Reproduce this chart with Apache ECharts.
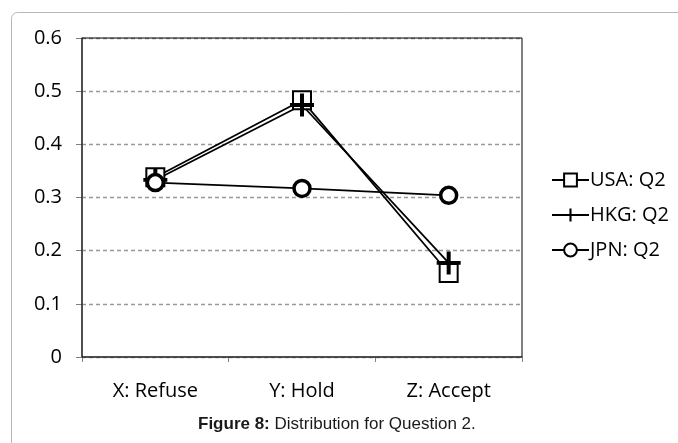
<!DOCTYPE html>
<html>
<head>
<meta charset="utf-8">
<script src="https://cdn.jsdelivr.net/npm/echarts@6/dist/echarts.min.js"></script>
<style>
  html, body { margin: 0; padding: 0; background: #fff; }
  #chart { width: 678px; height: 443px; }
</style>
</head>
<body>
<div id="chart"></div>
<script>
// Answer categories and the share of responses per country
const categories = ['X: Refuse', 'Y: Hold', 'Z: Accept'];
const usaQ2 = [0.338, 0.483, 0.158];
const hkgQ2 = [0.333, 0.474, 0.177];
const jpnQ2 = [0.328, 0.317, 0.304];
const yTicks = [0, 0.1, 0.2, 0.3, 0.4, 0.5, 0.6];

const plusPath = 'path://M10,0h4v10h10v4h-10v10h-4v-10h-10v-4h10z';
const labelFont = '"Open Sans", "Noto Sans", sans-serif';
const captionFont = '"Liberation Sans", Arial, sans-serif';

const chart = echarts.init(document.getElementById('chart'));

function lineSeries(name, data, symbol, size, borderW) {
  return {
    name: name,
    type: 'line',
    data: data,
    symbol: symbol,
    symbolSize: size,
    showAllSymbol: true,
    lineStyle: { color: '#000', width: 1.8 },
    itemStyle: {
      color: symbol === plusPath ? '#000' : '#fff',
      borderColor: '#000',
      borderWidth: borderW
    },
    emphasis: { disabled: true },
    z: 3
  };
}

chart.setOption({
  animation: false,
  backgroundColor: '#fff',
  graphic: [
    {
      // page frame, running off the right and bottom edges
      type: 'rect',
      shape: { x: 11.5, y: 12.5, width: 720, height: 470, r: 6 },
      style: { fill: 'none', stroke: '#b8b8b8', lineWidth: 1 },
      z: 0
    },
    {
      type: 'rect',
      shape: { x: 82, y: 38, width: 440, height: 319 },
      style: { fill: 'none', stroke: '#000', lineWidth: 1 },
      z: 1
    },
    {
      type: 'text',
      x: 198,
      y: 416,
      style: {
        rich: {
          b: { fontFamily: captionFont, fontSize: 17, fontWeight: 'bold', fill: '#1a1a1a' },
          n: { fontFamily: captionFont, fontSize: 17, fill: '#1a1a1a' }
        },
        text: '{b|Figure 8:}{n| Distribution for Question 2.}'
      },
      z: 5
    }
  ],
  grid: { left: 82, right: 156, top: 38, bottom: 86, containLabel: false },
  legend: {
    orient: 'vertical',
    left: 551,
    top: 170,
    padding: 0,
    itemGap: 15,
    itemWidth: 37,
    itemHeight: 16,
    textStyle: { fontFamily: labelFont, fontSize: 20, lineHeight: 20, color: '#000', padding: [0, 0, 0, -4] },
    data: ['USA: Q2', 'HKG: Q2', 'JPN: Q2']
  },
  xAxis: {
    type: 'category',
    data: categories,
    boundaryGap: true,
    axisLine: { lineStyle: { color: '#808080', width: 1.5 } },
    axisTick: { show: true, inside: false, length: 5, lineStyle: { color: '#808080' } },
    axisLabel: { fontFamily: labelFont, fontSize: 20, color: '#000', margin: 24 },
    splitLine: { show: false }
  },
  yAxis: {
    type: 'value',
    min: yTicks[0],
    max: yTicks[yTicks.length - 1],
    interval: 0.1,
    axisLine: { show: true, lineStyle: { color: '#808080', width: 1.5 } },
    axisTick: { show: true, length: 6, lineStyle: { color: '#808080' } },
    axisLabel: {
      fontFamily: labelFont, fontSize: 20, color: '#000', margin: 20,
      formatter: function (v) { return String(Math.round(v * 10) / 10); }
    },
    splitLine: { show: true, lineStyle: { color: '#999999', type: [4, 3], width: 1.3 } }
  },
  series: [
    lineSeries('USA: Q2', usaQ2, 'rect', 18, 2),
    lineSeries('HKG: Q2', hkgQ2, plusPath, [24, 23], 0),
    lineSeries('JPN: Q2', jpnQ2, 'circle', 16, 3.5)
  ]
});
</script>
</body>
</html>
